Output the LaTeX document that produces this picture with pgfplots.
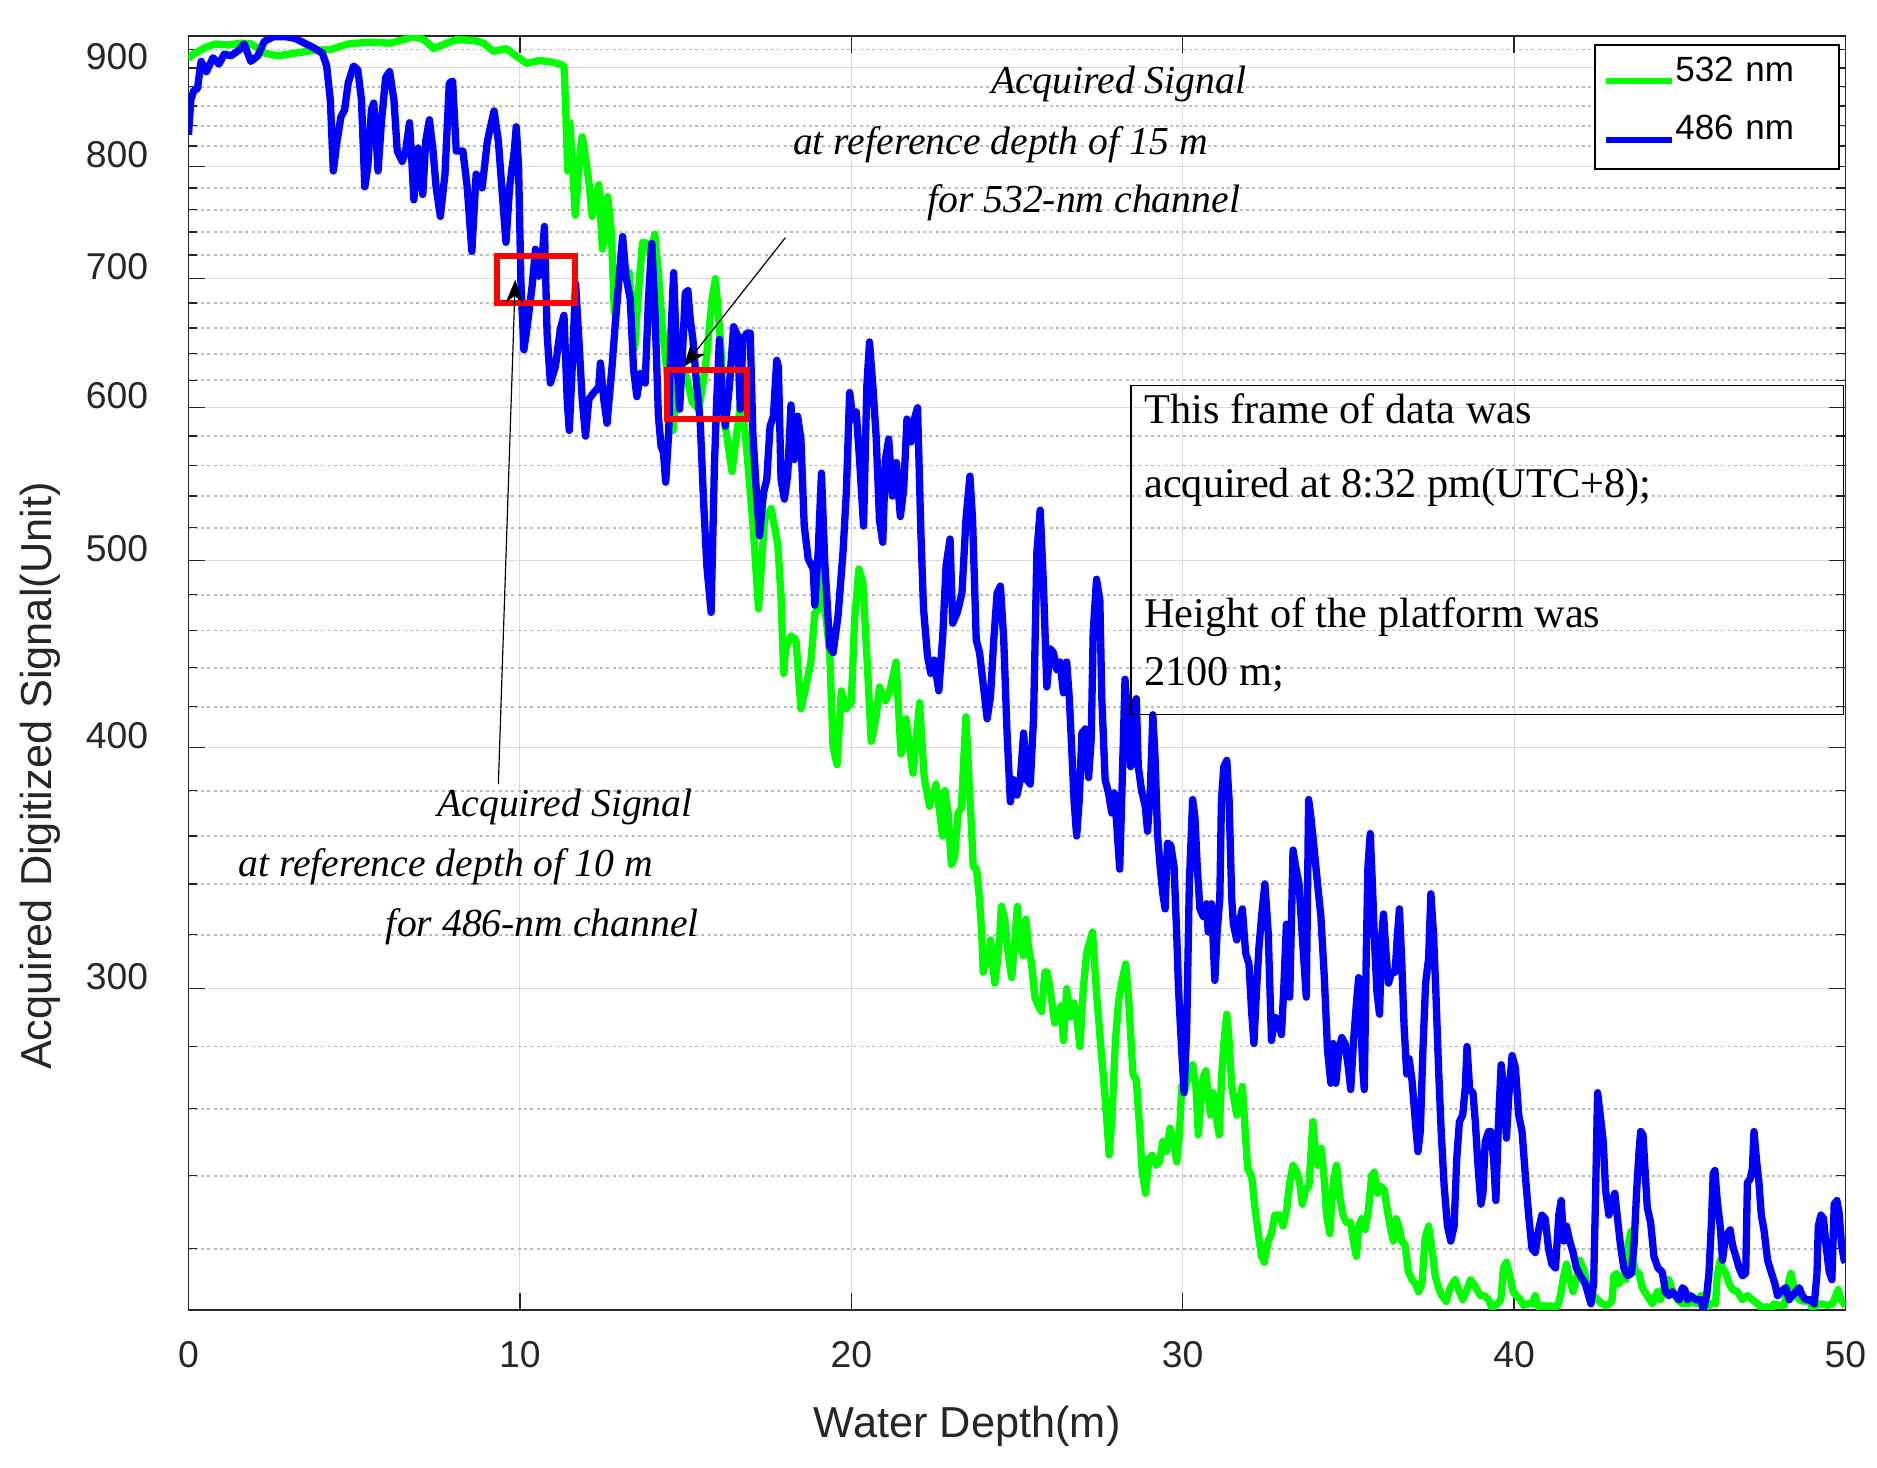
\documentclass[border=0pt]{standalone}
\usepackage{fontspec}
\setmainfont{Liberation Sans}
\newfontfamily\tms{Liberation Serif}
\usepackage{pgfplots}
\pgfplotsset{compat=1.18}
\usetikzlibrary{arrows.meta}
\definecolor{grn}{RGB}{0,255,0}
\definecolor{blu}{RGB}{0,0,255}
\definecolor{axgray}{RGB}{38,38,38}
\definecolor{gridmaj}{RGB}{218,218,218}
\definecolor{gridmin}{RGB}{188,188,188}
\newcommand\tickfont{\fontsize{11.2}{13}\selectfont}
\newcommand\labfont{\fontsize{13}{15}\selectfont}
\newcommand\annfont{\fontsize{11.9}{14}\selectfont\tms\itshape}
\newcommand\boxfont{\fontsize{12.7}{15}\selectfont\tms}
\begin{document}
\begin{tikzpicture}
\begin{axis}[
  scale only axis, width=497.1pt, height=382.2pt,
  xmin=0, xmax=50, ymode=log, ymin=204.5, ymax=935,
  xtick={0,10,20,30,40,50}, xticklabels={0,10,20,30,40,50},
  ytick={300,400,500,600,700,800,900}, yticklabels={300,400,500,600,700,800,900},
  minor ytick={220,240,260,280,320,340,360,380,420,440,460,480,520,540,560,580,620,640,660,680,720,740,760,780,820,840,860,880,920},
  xmajorgrids, ymajorgrids, yminorgrids,
  major grid style={line width=0.3pt, gridmaj},
  minor grid style={line width=0.55pt, gridmin, dash pattern=on 0.9pt off 1.0pt},
  tick align=inside, major tick length=5pt, minor tick length=2.7pt,
  tick style={axgray, line width=0.4pt},
  axis line style={axgray, line width=0.45pt},
  xticklabel style={font=\tickfont, text=axgray, anchor=north, inner sep=0pt, yshift=-9.2pt},
  yticklabel style={font=\tickfont, text=axgray, anchor=east, inner sep=0pt, xshift=-11.9pt, yshift=3.5pt},
  xlabel={Water Depth(m)}, ylabel={Acquired Digitized Signal(Unit)},
  every axis x label/.style={at={(axis description cs:0.470,-0.0911)}, anchor=center, font=\labfont, text=axgray},
  every axis y label/.style={at={(axis description cs:-0.0895,0.419)}, rotate=90, anchor=center, font=\labfont, text=axgray},
  legend style={at={(rel axis cs:1.0005,0.9929)}, anchor=north east, draw=none, fill=none,
    font=\fontsize{10.5}{12}\selectfont, inner xsep=2.1pt, inner ysep=3.1pt, row sep=8.5pt,
    cells={anchor=west}, nodes={inner sep=0pt},
    /tikz/every odd column/.append style={column sep=0pt},
    /tikz/every even column/.append style={text width=49pt, text height=7.6pt, text depth=5.7pt}},
  legend image code/.code={\draw[#1, line width=1.8pt] (0pt,-3pt) -- (19.8pt,-3pt);},
]
\addplot[grn, line width=2.2pt, line join=round] coordinates {
(0,910)(0.15,915)(0.3,918)(0.5,922)(0.8,926)(1.2,925)(1.6,927)(1.9,926)(2.1,921)(2.3,916)(2.7,913)(3.2,916)(3.8,919)(4.3,920)(4.8,926)(5.4,928)(6.1,927)(6.5,931)(6.8,934)(7.1,931)(7.4,921)(7.8,927)(8.1,931)(8.6,930)(8.9,927)(9.2,918)(9.6,921)(9.8,915)(10.2,905)(10.6,908)(11.0,906)(11.2,904)(11.33,902)(11.38,860)(11.44,796)(11.51,843)(11.6,794)(11.67,755)(11.74,783)(11.82,815)(11.88,829)(11.98,809)(12.09,783)(12.18,754)(12.29,772)(12.38,783)(12.49,725)(12.58,740)(12.65,772)(12.76,740)(12.85,672)(12.95,708)(13.06,711)(13.16,700)(13.3,705)(13.46,644)(13.57,687)(13.7,731)(13.85,730)(13.95,720)(14.07,738)(14.18,705)(14.3,660)(14.42,630)(14.52,606)(14.62,584)(14.72,615)(15.0,625)(15.2,604)(15.4,599)(15.6,630)(15.8,683)(15.9,700)(16.05,651)(16.2,587)(16.4,556)(16.52,578)(16.68,606)(16.8,582)(16.9,556)(17.05,517)(17.2,472)(17.38,525)(17.58,532)(17.78,510)(17.88,479)(17.96,437)(18.02,450)(18.18,457)(18.33,455)(18.48,419)(18.63,430)(18.78,443)(18.9,470)(19.0,471)(19.1,500)(19.22,470)(19.35,448)(19.45,400)(19.57,392)(19.7,428)(19.85,419)(20.0,422)(20.1,466)(20.23,495)(20.35,487)(20.48,443)(20.6,403)(20.75,415)(20.85,430)(21.03,423)(21.15,427)(21.35,443)(21.5,397)(21.65,414)(21.86,388)(22.06,422)(22.2,386)(22.36,373)(22.56,383)(22.67,370)(22.75,360)(22.82,380)(22.92,370)(23.02,348)(23.12,351)(23.22,370)(23.32,372)(23.46,415)(23.55,385)(23.63,363)(23.68,347)(23.78,346)(23.86,335)(23.93,322)(23.98,306)(24.06,311)(24.13,309)(24.2,318)(24.26,310)(24.33,302)(24.4,309)(24.48,320)(24.53,331)(24.63,326)(24.73,313)(24.84,304)(24.94,318)(25.01,331)(25.09,316)(25.19,312)(25.27,326)(25.34,316)(25.44,309)(25.54,297)(25.64,294)(25.74,292)(25.84,306)(25.91,306)(26.01,299)(26.14,288)(26.24,291)(26.33,294)(26.4,282)(26.5,300)(26.6,290)(26.72,295)(26.82,288)(26.9,280)(27.0,300)(27.1,313)(27.28,321)(27.39,300)(27.5,284)(27.6,271)(27.7,258)(27.78,246)(27.87,258)(27.97,282)(28.07,296)(28.17,303)(28.28,309)(28.37,296)(28.44,282)(28.5,271)(28.6,269)(28.7,254)(28.78,241)(28.88,235)(28.98,245)(29.08,246)(29.2,243)(29.3,244)(29.4,250)(29.5,247)(29.62,254)(29.72,250)(29.82,244)(29.9,252)(29.97,267)(30.07,266)(30.17,270)(30.3,274)(30.4,267)(30.47,252)(30.54,261)(30.62,270)(30.7,272)(30.77,264)(30.84,258)(30.92,265)(31.02,257)(31.1,252)(31.17,269)(31.24,281)(31.33,291)(31.4,282)(31.48,267)(31.55,263)(31.63,258)(31.71,263)(31.8,267)(31.88,254)(31.96,242)(32.08,240)(32.18,231)(32.28,224)(32.38,218)(32.46,216.5)(32.58,222)(32.68,224)(32.78,229)(32.93,229)(33.03,226)(33.13,230)(33.23,238)(33.33,243)(33.45,241)(33.53,238)(33.61,232)(33.71,236)(33.81,237)(33.88,248)(33.93,256)(34.01,247)(34.08,243)(34.18,248)(34.28,238)(34.34,229)(34.44,224)(34.54,238)(34.64,243)(34.74,234)(34.84,229)(34.94,227)(35.06,227)(35.15,222)(35.24,218)(35.31,226)(35.4,228)(35.5,225)(35.6,230)(35.7,240)(35.78,241)(35.88,235)(35.98,237)(36.08,236)(36.18,230)(36.28,225)(36.36,222)(36.44,228)(36.52,226)(36.61,222)(36.71,221)(36.81,214)(36.92,212)(37.02,211)(37.12,209)(37.22,211)(37.32,223)(37.42,226)(37.52,220)(37.62,213)(37.72,210)(37.82,208)(37.95,206.6)(38.07,210)(38.22,212)(38.35,209)(38.45,207)(38.56,209)(38.68,212)(38.78,211)(38.88,209.5)(38.98,208)(39.1,208)(39.23,207)(39.33,205)(39.4,205.5)(39.5,206)(39.6,207)(39.68,215)(39.77,216.5)(39.87,213)(39.97,209)(40.07,208)(40.19,207)(40.29,205.6)(40.41,206)(40.54,206)(40.64,208)(40.74,205)(40.87,205.6)(40.99,205.3)(41.11,205.6)(41.21,205)(41.3,205.2)(41.4,208)(41.5,213)(41.58,216)(41.68,212)(41.78,209)(41.88,212)(41.98,217)(42.08,215)(42.18,212)(42.28,209)(42.4,208)(42.52,207)(42.65,206)(42.76,205.6)(42.89,206)(42.96,207)(43.01,213)(43.09,213.6)(43.16,211)(43.26,213)(43.37,212)(43.44,221)(43.52,224.5)(43.59,217)(43.67,214)(43.77,213.6)(43.87,210)(44.02,208)(44.17,206)(44.32,209)(44.42,207)(44.52,210)(44.67,212)(44.78,209)(44.93,207)(45.08,206)(45.23,206)(45.38,206.5)(45.53,206)(45.63,208)(45.78,205)(45.93,206)(46.08,206)(46.13,213)(46.22,217)(46.29,215)(46.39,213.6)(46.49,211)(46.59,209.5)(46.74,209)(46.89,207)(47.04,208)(47.19,207)(47.34,206)(47.49,205)(47.65,205.3)(47.75,204.8)(47.85,206)(48.0,205.6)(48.15,205.6)(48.25,210)(48.35,213.6)(48.45,210)(48.6,207)(48.75,206.6)(48.9,207)(49.0,205)(49.1,205.6)(49.26,206)(49.46,205.6)(49.61,206)(49.71,208)(49.78,209.5)(49.86,207)(49.96,206)(50,205.3)
};
\addlegendentry{532 nm}
\addplot[blu, line width=2.2pt, line join=round] coordinates {
(0,831)(0.07,866)(0.16,876)(0.27,878)(0.38,907)(0.54,896)(0.74,911)(0.92,904)(1.08,915)(1.28,913)(1.55,920)(1.68,926)(1.88,907)(2.09,913)(2.29,929)(2.56,934)(2.96,934)(3.23,932)(3.5,927)(3.77,922)(4.04,916)(4.17,902)(4.28,866)(4.37,796)(4.47,822)(4.6,849)(4.71,856)(4.82,884)(4.98,902)(5.11,898)(5.22,866)(5.32,781)(5.41,800)(5.52,856)(5.59,863)(5.66,830)(5.72,796)(5.82,843)(5.95,890)(6.07,896)(6.2,866)(6.3,815)(6.45,805)(6.55,815)(6.67,843)(6.74,805)(6.8,769)(6.93,818)(7.07,774)(7.16,825)(7.27,846)(7.38,815)(7.47,781)(7.6,754)(7.74,793)(7.87,884)(7.97,886)(8.08,815)(8.28,815)(8.41,781)(8.55,723)(8.68,793)(8.86,780)(9.02,825)(9.22,855)(9.35,825)(9.49,766)(9.58,731)(9.69,781)(9.83,815)(9.89,839)(9.96,800)(10.03,698)(10.12,643)(10.22,661)(10.37,694)(10.47,725)(10.57,702)(10.67,716)(10.74,745)(10.82,656)(10.92,618)(11.07,630)(11.22,659)(11.33,670)(11.43,604)(11.49,584)(11.58,630)(11.68,696)(11.78,651)(11.88,606)(11.98,580)(12.08,606)(12.23,611)(12.38,615)(12.43,633)(12.53,606)(12.63,589)(12.78,630)(12.88,664)(12.98,696)(13.1,736)(13.2,702)(13.33,683)(13.43,628)(13.53,608)(13.63,625)(13.78,618)(13.88,683)(13.98,730)(14.08,670)(14.18,594)(14.26,573)(14.33,569)(14.4,549)(14.49,582)(14.56,656)(14.64,705)(14.72,643)(14.82,599)(14.92,648)(14.99,688)(15.07,690)(15.14,667)(15.22,651)(15.34,615)(15.44,591)(15.54,538)(15.64,497)(15.77,470)(15.87,560)(15.94,606)(16.02,651)(16.1,606)(16.2,587)(16.32,615)(16.45,661)(16.57,654)(16.65,599)(16.73,651)(16.85,656)(16.95,656)(17.03,582)(17.13,545)(17.23,515)(17.35,542)(17.45,551)(17.55,587)(17.65,594)(17.75,635)(17.8,630)(17.88,551)(17.98,538)(18.08,553)(18.18,602)(18.28,564)(18.38,594)(18.48,578)(18.58,521)(18.7,501)(18.85,495)(18.9,474)(19.0,505)(19.1,555)(19.2,499)(19.35,451)(19.45,448)(19.6,468)(19.75,505)(19.85,542)(19.95,611)(20.05,592)(20.15,597)(20.25,564)(20.37,521)(20.47,616)(20.55,649)(20.65,616)(20.75,580)(20.85,525)(20.95,511)(21.03,564)(21.13,578)(21.24,540)(21.36,562)(21.48,527)(21.58,544)(21.68,592)(21.8,576)(21.9,592)(22.0,600)(22.1,517)(22.18,472)(22.3,446)(22.4,437)(22.5,444)(22.64,428)(22.76,457)(22.86,497)(22.98,513)(23.06,464)(23.2,470)(23.34,481)(23.46,525)(23.58,553)(23.66,525)(23.77,455)(23.87,448)(23.99,430)(24.1,414)(24.2,425)(24.3,455)(24.4,481)(24.5,485)(24.6,455)(24.7,407)(24.8,375)(24.9,385)(25.0,378)(25.1,385)(25.2,407)(25.3,385)(25.4,383)(25.5,414)(25.6,505)(25.7,531)(25.8,485)(25.9,430)(26.0,450)(26.1,448)(26.2,439)(26.3,443)(26.4,427)(26.5,443)(26.58,424)(26.65,400)(26.72,376)(26.8,360)(26.88,376)(26.96,407)(27.06,409)(27.16,386)(27.24,404)(27.3,459)(27.4,489)(27.5,477)(27.56,424)(27.66,385)(27.76,379)(27.86,370)(27.93,379)(28.0,367)(28.1,346)(28.16,376)(28.26,434)(28.36,410)(28.43,391)(28.51,420)(28.6,424)(28.66,391)(28.76,380)(28.87,373)(28.94,362)(29.02,379)(29.1,416)(29.17,394)(29.24,361)(29.32,347)(29.4,336)(29.47,330)(29.54,357)(29.64,356)(29.74,347)(29.82,320)(29.87,301)(29.94,285)(30.04,265)(30.12,285)(30.2,340)(30.3,376)(30.37,368)(30.44,347)(30.52,330)(30.62,327)(30.72,332)(30.77,321)(30.87,332)(30.97,303)(31.04,321)(31.12,334)(31.17,376)(31.24,391)(31.33,394)(31.4,376)(31.48,334)(31.53,324)(31.63,318)(31.73,326)(31.8,330)(31.9,313)(32.0,309)(32.08,292)(32.15,281)(32.23,300)(32.3,315)(32.38,327)(32.48,340)(32.58,321)(32.68,282)(32.78,290)(32.88,289)(32.98,284)(33.05,300)(33.13,324)(33.23,297)(33.33,354)(33.41,347)(33.51,340)(33.6,321)(33.73,297)(33.8,376)(33.87,368)(33.97,354)(34.07,340)(34.17,327)(34.27,305)(34.37,279)(34.47,268)(34.54,281)(34.62,268)(34.72,279)(34.8,283)(34.9,281)(35.0,273)(35.07,266)(35.15,281)(35.23,293)(35.31,304)(35.37,291)(35.43,273)(35.48,266)(35.54,313)(35.59,347)(35.66,361)(35.73,338)(35.79,317)(35.86,299)(35.94,291)(36.01,320)(36.06,328)(36.13,314)(36.21,302)(36.31,306)(36.41,306)(36.48,320)(36.54,330)(36.61,310)(36.68,287)(36.76,271)(36.83,276)(36.92,269)(37.02,256)(37.1,247)(37.17,253)(37.25,279)(37.33,302)(37.42,311)(37.49,336)(37.57,320)(37.64,299)(37.72,273)(37.8,253)(37.89,237)(37.99,226)(38.09,222)(38.19,226)(38.27,245)(38.35,256)(38.45,258)(38.53,267)(38.58,280)(38.66,266)(38.76,265)(38.83,256)(38.91,243)(39.0,232)(39.06,235)(39.13,250)(39.23,253)(39.3,253)(39.38,245)(39.45,233)(39.53,256)(39.61,274)(39.68,267)(39.77,251)(39.84,264)(39.94,277)(40.04,273)(40.14,258)(40.24,253)(40.34,240)(40.44,229)(40.54,220)(40.64,219)(40.74,225)(40.84,229)(40.94,228)(41.04,220)(41.14,216)(41.25,215)(41.35,229)(41.42,233)(41.5,222)(41.58,226)(41.68,222)(41.78,219)(41.88,215)(42.0,213)(42.15,211)(42.25,208)(42.32,206)(42.4,211)(42.46,235)(42.52,265)(42.6,258)(42.69,250)(42.76,236)(42.86,229)(42.96,233)(43.04,235)(43.11,229)(43.21,221)(43.31,215)(43.42,213)(43.54,213.6)(43.62,221)(43.7,236)(43.77,247)(43.82,253)(43.89,252)(43.95,242)(44.02,231)(44.12,227)(44.22,218)(44.34,215)(44.47,214)(44.57,209)(44.67,208)(44.78,209)(44.88,208)(44.98,207)(45.08,210)(45.15,209.5)(45.23,207)(45.33,208)(45.48,207)(45.63,207)(45.71,204.6)(45.81,208)(45.88,213.6)(45.95,226)(46.01,240.7)(46.06,241.5)(46.13,233)(46.22,226)(46.29,217)(46.36,222)(46.44,224)(46.52,225)(46.59,221)(46.69,218)(46.79,215)(46.89,213)(46.99,213.6)(47.04,238)(47.12,239)(47.19,242)(47.24,253)(47.32,244)(47.39,238)(47.46,229)(47.54,225)(47.65,217)(47.77,213.6)(47.87,211)(47.95,208)(48.05,209)(48.2,210)(48.3,207)(48.4,208)(48.5,209)(48.6,210)(48.7,208)(48.8,207)(48.93,207)(49.06,206)(49.14,213.6)(49.18,226)(49.26,229)(49.34,228)(49.41,221)(49.51,214)(49.59,212)(49.66,232)(49.74,233)(49.81,229.5)(49.88,221)(49.96,217)(50,216.5)
};
\addlegendentry{486 nm}
% legend frame
\draw[black, line width=0.5pt, fill=white] (rel axis cs:0.8490,0.8956) rectangle (rel axis cs:0.9961,0.9929);
% red boxes
\draw[red, line width=1.8pt] (axis cs:9.3,680) rectangle (axis cs:11.66,719);
\draw[red, line width=1.8pt] (axis cs:14.43,592) rectangle (axis cs:16.85,628);
% arrows
\draw[black, line width=0.35pt, -{Stealth[length=7pt, width=5.3pt, inset=2.2pt]}] (axis cs:9.35,383) -- (axis cs:9.86,699);
\draw[black, line width=0.35pt, -{Stealth[length=7pt, width=5.3pt, inset=2.2pt]}] (axis cs:18.01,735) -- (axis cs:14.94,630);
% top annotation
\node[anchor=base, font=\annfont, inner sep=0pt] at (axis cs:28.07,872.6) {Acquired Signal};
\node[anchor=base, font=\annfont, inner sep=0pt] at (axis cs:24.5,812) {at reference depth of 15 m};
\node[anchor=base, font=\annfont, inner sep=0pt] at (axis cs:27.01,757) {for 532-nm channel};
% lower annotation
\node[anchor=base, font=\annfont, inner sep=0pt] at (axis cs:11.36,368.4) {Acquired Signal};
\node[anchor=base, font=\annfont, inner sep=0pt] at (axis cs:7.76,342.9) {at reference depth of 10 m};
\node[anchor=base, font=\annfont, inner sep=0pt] at (axis cs:10.68,319.4) {for 486-nm channel};
% text box
\draw[black, line width=0.4pt] (axis cs:28.44,416) rectangle (axis cs:49.95,616);
\node[anchor=base west, font=\boxfont, inner sep=0pt] at (axis cs:28.82,589) {This frame of data was};
\node[anchor=base west, font=\boxfont, inner sep=0pt] at (axis cs:28.82,539) {acquired at 8:32 pm(UTC+8);};
\node[anchor=base west, font=\boxfont, inner sep=0pt] at (axis cs:28.82,461.5) {Height of the platform was};
\node[anchor=base west, font=\boxfont, inner sep=0pt] at (axis cs:28.82,431) {2100 m;};
\end{axis}
\pgfresetboundingbox
\path[use as bounding box] (-56.55pt,-47.4pt) rectangle (506.55pt,393pt);
\end{tikzpicture}
\end{document}
